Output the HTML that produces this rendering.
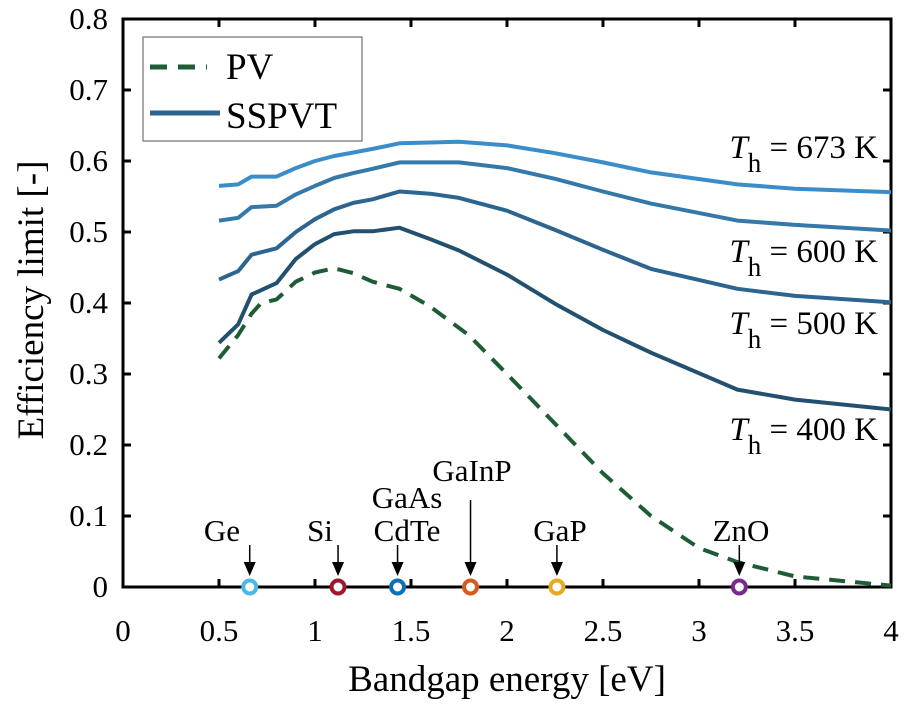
<!DOCTYPE html>
<html><head><meta charset="utf-8"><style>
body{margin:0;background:#fff;}
svg, svg text{font-family:"Liberation Serif","Times New Roman","DejaVu Serif",serif;fill:#000;}
</style></head><body>
<svg id="chart" width="908" height="703" font-family="Liberation Serif, Times New Roman, DejaVu Serif, serif"></svg>
<script>
const xs=[0.5,0.6,0.67,0.8,0.9,1.0,1.1,1.2,1.3,1.44,1.6,1.75,2.0,2.25,2.5,2.75,3.2,3.5,4.0];
const s673=[0.565,0.567,0.578,0.578,0.590,0.600,0.607,0.612,0.617,0.625,0.626,0.627,0.622,0.611,0.598,0.584,0.567,0.561,0.556];
const s600=[0.516,0.520,0.535,0.537,0.553,0.565,0.576,0.583,0.589,0.598,0.598,0.598,0.590,0.575,0.557,0.540,0.516,0.510,0.502];
const s500=[0.433,0.445,0.468,0.477,0.500,0.518,0.532,0.541,0.546,0.557,0.554,0.548,0.530,0.503,0.475,0.448,0.420,0.410,0.401];
const s400=[0.344,0.370,0.412,0.428,0.462,0.483,0.497,0.501,0.501,0.506,0.490,0.474,0.440,0.399,0.362,0.330,0.278,0.264,0.250];
const pvX=[0.5,0.6,0.67,0.72,0.8,0.9,1.0,1.1,1.2,1.3,1.44,1.6,1.8,2.0,2.25,2.5,2.75,3.0,3.2,3.5,4.0];
const pvY=[0.322,0.355,0.385,0.400,0.405,0.430,0.443,0.449,0.442,0.430,0.420,0.395,0.355,0.300,0.230,0.160,0.100,0.055,0.035,0.015,0.002];
const matNames=["Ge","Si","GaAs","GaInP","GaP","ZnO"];
const matGaps=[0.66,1.12,1.43,1.81,2.26,3.21];
const xTicks=[0,0.5,1,1.5,2,2.5,3,3.5,4];
const xTickLabels=["0","0.5","1","1.5","2","2.5","3","3.5","4"];
const yTicks=[0,0.1,0.2,0.3,0.4,0.5,0.6,0.7,0.8];
const yTickLabels=["0","0.1","0.2","0.3","0.4","0.5","0.6","0.7","0.8"];

const X=v=>123+192*v, Y=v=>587-710*v;
const svg=document.getElementById('chart');
const NS='http://www.w3.org/2000/svg';
const FF='"Liberation Serif","Times New Roman","DejaVu Serif",serif';
function mk(tag,attrs,parent){const e=document.createElementNS(NS,tag);for(const k in attrs)e.setAttribute(k,attrs[k]);if(tag==='text')e.style.fontFamily=FF;(parent||svg).appendChild(e);return e;}

let box=mk('rect',{x:X(0),y:Y(0.8),width:X(4)-X(0),height:Y(0)-Y(0.8),fill:'none',stroke:'#000','stroke-width':3});


xTicks.forEach((t,i)=>{
  let l=mk('line',{x1:X(t),x2:X(t),y1:Y(0),y2:Y(0)-8,stroke:'#000','stroke-width':3});
  
  
  let l2=mk('line',{x1:X(t),x2:X(t),y1:Y(0.8),y2:Y(0.8)+8,stroke:'#000','stroke-width':3});
  
  
  let tx=mk('text',{x:X(t),y:641,'text-anchor':'middle','font-size':31});
  tx.textContent=xTickLabels[i];
  
  
});
yTicks.forEach((t,i)=>{
  let l=mk('line',{x1:X(0),x2:X(0)+8,y1:Y(t),y2:Y(t),stroke:'#000','stroke-width':3});
  
  
  let l2=mk('line',{x1:X(4),x2:X(4)-8,y1:Y(t),y2:Y(t),stroke:'#000','stroke-width':3});
  
  
  let tx=mk('text',{x:108,y:Y(t)+10,'text-anchor':'end','font-size':31});
  tx.textContent=yTickLabels[i];
  
  
});
let xt=mk('text',{x:507,y:691,'text-anchor':'middle','font-size':37});
xt.textContent='Bandgap energy [eV]';


let yt=mk('text',{x:0,y:0,'text-anchor':'middle','font-size':37,transform:'translate(43,300) rotate(-90)'});
yt.textContent='Efficiency limit [-]';



function line(xv,yv,color,name,dash){
  const d=xv.map((x,i)=>(i?'L':'M')+X(x).toFixed(1)+','+Y(yv[i]).toFixed(1)).join(' ');
  const p=mk('path',{d:d,fill:'none',stroke:color,'stroke-width':4,'stroke-linejoin':'round'});
  if(dash)p.setAttribute('stroke-dasharray',dash);
  
  
}
line(xs,s673,'#3b8dca','sspvt-673k-line');
line(xs,s600,'#3479aa','sspvt-600k-line');
line(xs,s500,'#2c6590','sspvt-500k-line');
line(xs,s400,'#23506f','sspvt-400k-line');
line(pvX,pvY,'#1e5c36','pv-line','16,10');

const thLabels=[["673",158],["600",262],["500",334],["400",440]];
thLabels.forEach(([k,y])=>{
  let t=mk('text',{x:878,y:y,'text-anchor':'end','font-size':33});
  t.innerHTML='<tspan font-style="italic">T</tspan><tspan dy="14" font-size="27">h</tspan><tspan dy="-14"> = '+k+' K</tspan>';
  
  
});

const matColors=['#4db8e8','#a0182e','#0a70b8','#d85a1e','#e8a820','#7a2a8c'];
const labelPos=[[222,541],[320,541],[407,541],[472,481],[560,541],[741,541]];
matNames.forEach((n,i)=>{
  const cx=X(matGaps[i]);
  const top=n==='GaInP'?500:545;
  let a=mk('line',{x1:cx,x2:cx,y1:top,y2:565,stroke:'#000','stroke-width':1.5});
  
  
  let h=mk('path',{d:`M${cx-6},562 L${cx+6},562 L${cx},576 Z`,fill:'#000'});
  
  
  let c=mk('circle',{cx:cx,cy:Y(0),r:6.5,fill:'#fff',stroke:matColors[i],'stroke-width':4});
  
  
  let t=mk('text',{x:labelPos[i][0],y:labelPos[i][1],'text-anchor':'middle','font-size':31});
  t.textContent=n==='GaAs'?'CdTe':n;
  
  
  if(n==='GaAs'){let t2=mk('text',{x:407,y:508,'text-anchor':'middle','font-size':31});t2.textContent='GaAs';
  
  }
});

let lg=mk('rect',{x:143,y:37,width:219,height:104,fill:'#fff',stroke:'#555','stroke-width':1});


let l1=mk('line',{x1:150,x2:207,y1:67,y2:67,stroke:'#1e5c36','stroke-width':5,'stroke-dasharray':'17,11'});


let t1=mk('text',{x:226,y:79,'font-size':37});t1.textContent='PV';


let l2=mk('line',{x1:150,x2:220,y1:113,y2:113,stroke:'#2c6590','stroke-width':5});


let t2=mk('text',{x:226,y:128,'font-size':37});t2.textContent='SSPVT';


</script>
</body></html>
